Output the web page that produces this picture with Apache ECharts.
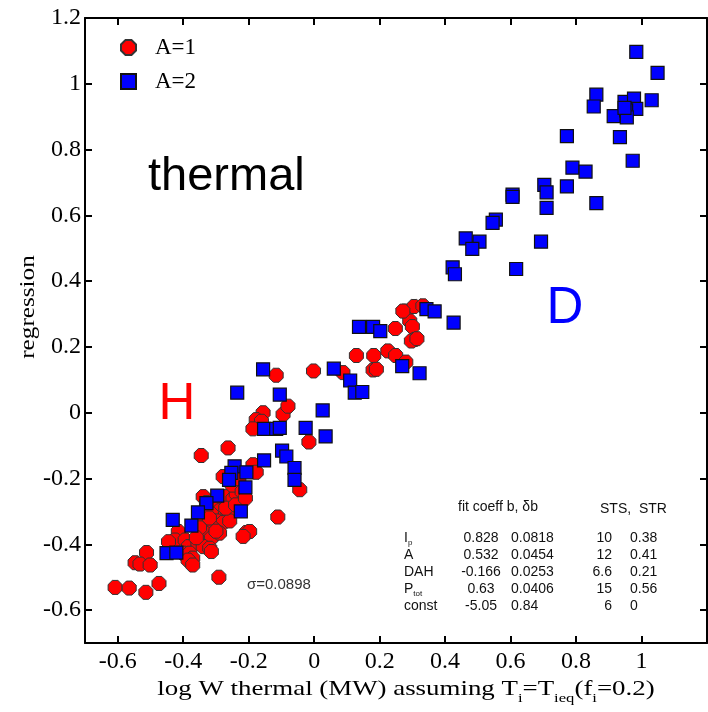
<!DOCTYPE html>
<html>
<head>
<meta charset="utf-8">
<script src="https://cdn.jsdelivr.net/npm/echarts@6/dist/echarts.min.js"></script>
<style>html,body{margin:0;padding:0;background:#fff}#c{width:708px;height:712px}</style>
</head>
<body>
<div id="c"></div>
<script>
// ---- data ----
const seriesNames = ['A=1', 'A=2'];
const a1Points = [
 [-0.002,0.127],[0.088,0.122],[0.129,0.174],[0.182,0.174],[0.180,0.130],[0.190,0.132],
 [0.225,0.188],[0.249,0.174],[0.280,0.154],[0.248,0.256],[0.277,0.309],[0.305,0.323],
 [0.332,0.325],[0.292,0.279],[0.300,0.262],[0.307,0.223],[0.297,0.218],[0.314,0.225],
 [0.271,0.309],[-0.116,0.114],[-0.095,-0.005],[-0.080,0.020],[-0.156,0.000],[-0.177,-0.021],
 [-0.161,-0.026],[-0.187,-0.049],[-0.016,-0.089],[-0.263,-0.107],[-0.345,-0.130],[-0.187,-0.158],
 [-0.177,-0.181],[-0.278,-0.194],[-0.044,-0.234],[-0.339,-0.255],[-0.329,-0.273],[-0.304,-0.280],
 [-0.268,-0.255],[-0.248,-0.262],[-0.238,-0.246],[-0.111,-0.317],[-0.289,-0.298],[-0.263,-0.308],
 [-0.314,-0.308],[-0.298,-0.329],[-0.278,-0.334],[-0.258,-0.329],[-0.355,-0.336],[-0.329,-0.346],
 [-0.309,-0.351],[-0.334,-0.366],[-0.314,-0.381],[-0.289,-0.366],[-0.415,-0.361],[-0.425,-0.387],
 [-0.445,-0.392],[-0.394,-0.387],[-0.384,-0.407],[-0.355,-0.397],[-0.339,-0.407],[-0.400,-0.427],
 [-0.380,-0.427],[-0.319,-0.412],[-0.314,-0.422],[-0.371,-0.442],[-0.385,-0.448],[-0.371,-0.463],
 [-0.207,-0.364],[-0.197,-0.361],[-0.217,-0.376],[-0.512,-0.425],[-0.547,-0.456],[-0.532,-0.460],
 [-0.501,-0.463],[-0.608,-0.531],[-0.565,-0.533],[-0.514,-0.546],[-0.474,-0.519],[-0.291,-0.500],
 [-0.25,-0.22],[-0.22,-0.24],[-0.27,-0.29],[-0.24,-0.28],[-0.32,-0.32],[-0.35,-0.35],
 [-0.36,-0.38],[-0.30,-0.36],[-0.23,-0.20],[-0.21,-0.26]
];
const a2Points = [
 [0.984,1.097],[1.049,1.033],[0.862,0.967],[0.854,0.931],[0.948,0.945],[0.977,0.955],
 [0.984,0.924],[1.031,0.950],[0.915,0.902],[0.953,0.919],[0.955,0.898],[0.948,0.927],
 [0.772,0.841],[0.934,0.838],[0.973,0.766],[0.789,0.745],[0.829,0.733],[0.772,0.688],
 [0.703,0.693],[0.710,0.670],[0.710,0.623],[0.862,0.637],[0.606,0.663],[0.606,0.656],
 [0.555,0.587],[0.545,0.577],[0.463,0.530],[0.505,0.520],[0.483,0.498],[0.693,0.520],
 [0.423,0.442],[0.430,0.421],[0.617,0.437],[0.343,0.315],[0.368,0.308],[0.426,0.274],
 [0.137,0.261],[0.180,0.261],[0.202,0.248],[0.269,0.142],[0.322,0.120],[0.060,0.134],
 [0.110,0.098],[0.124,0.061],[0.147,0.063],[0.026,0.007],[0.035,-0.072],
 [-0.156,0.132],[-0.235,0.061],[-0.105,0.055],[-0.153,-0.049],[-0.116,-0.049],[-0.105,-0.046],
 [-0.026,-0.046],[-0.098,-0.115],[-0.085,-0.133],[-0.060,-0.168],[-0.060,-0.204],[-0.153,-0.145],
 [-0.243,-0.163],[-0.253,-0.183],[-0.260,-0.204],[-0.207,-0.181],[-0.210,-0.227],[-0.296,-0.252],
 [-0.329,-0.275],[-0.355,-0.303],[-0.224,-0.300],[-0.432,-0.326],[-0.375,-0.343],[-0.451,-0.427],
 [-0.421,-0.425]
];
const xTicks = [-0.6,-0.4,-0.2,0,0.2,0.4,0.6,0.8,1];
const yTicks = [-0.6,-0.4,-0.2,0,0.2,0.4,0.6,0.8,1];
const yTickLabels = [-0.6,-0.4,-0.2,0,0.2,0.4,0.6,0.8,1,1.2];
const tableHeader = ['fit coeff b, \u03b4b', 'STS,  STR'];
const tableRows = ['I{s|p}', 'A', 'DAH', 'P{s|tot}', 'const'];
const tableB = ['0.828', '0.532', '-0.166', '0.63', '-5.05'];
const tableDB = ['0.0818', '0.0454', '0.0253', '0.0406', '0.84'];
const tableSTS = ['10', '12', '6.6', '15', '6'];
const tableSTR = ['0.38', '0.41', '0.21', '0.56', '0'];
const sigmaText = '\u03c3=0.0898';

// ---- chart ----
const OCT = 'path://M30,0 L70,0 L100,30 L100,70 L70,100 L30,100 L0,70 L0,30 Z';
const SERIF = 'Liberation Serif';
const SANS = 'Liberation Sans';
const chart = echarts.init(document.getElementById('c'), null, {renderer: 'canvas'});

const axisLine = {show: true, onZero: false, lineStyle: {color: '#000', width: 2}};
const tickStyle = {show: true, inside: true, length: 7, lineStyle: {color: '#000', width: 2}};

const graphics = [];
graphics.push({type: 'text', x: 148, y: 177, style: {text: 'thermal', font: '47px ' + SANS, fill: '#000', verticalAlign: 'middle'}});
graphics.push({type: 'text', x: 177, y: 405, style: {text: 'H', font: '51px ' + SANS, fill: '#ff0000', align: 'center', verticalAlign: 'middle'}});
graphics.push({type: 'text', x: 565, y: 309, style: {text: 'D', font: '51px ' + SANS, fill: '#0000ff', align: 'center', verticalAlign: 'middle'}});
graphics.push({type: 'text', x: 247, y: 585, style: {text: sigmaText, font: '15px ' + SANS, fill: '#333', verticalAlign: 'middle'}});
graphics.push({type: 'text', x: 458, y: 507, style: {text: tableHeader[0], font: '14px ' + SANS, fill: '#111', verticalAlign: 'middle'}});
graphics.push({type: 'text', x: 600, y: 509, style: {text: tableHeader[1], font: '14px ' + SANS, fill: '#111', verticalAlign: 'middle'}});
const rowY = [538, 555, 572, 589, 606];
tableRows.forEach((r, i) => {
  graphics.push({type: 'text', x: 404, y: rowY[i], style: {text: r, font: '14px ' + SANS, fill: '#111', verticalAlign: 'middle',
    rich: {s: {fontSize: 8, fontFamily: SANS, padding: [9, 0, 0, 0], fill: '#111'}}}});
  graphics.push({type: 'text', x: 481, y: rowY[i], style: {text: tableB[i], font: '14px ' + SANS, fill: '#111', align: 'center', verticalAlign: 'middle'}});
  graphics.push({type: 'text', x: 511, y: rowY[i], style: {text: tableDB[i], font: '14px ' + SANS, fill: '#111', verticalAlign: 'middle'}});
  graphics.push({type: 'text', x: 612, y: rowY[i], style: {text: tableSTS[i], font: '14px ' + SANS, fill: '#111', align: 'right', verticalAlign: 'middle'}});
  graphics.push({type: 'text', x: 630, y: rowY[i], style: {text: tableSTR[i], font: '14px ' + SANS, fill: '#111', verticalAlign: 'middle'}});
});
graphics.push({type: 'text', x: 406, y: 689, scaleX: 1.28, style: {
  text: 'log W thermal (MW) assuming T{s|i}=T{s|ieq}(f{s|i}=0.2)',
  font: '21px ' + SERIF, fill: '#000', align: 'center', verticalAlign: 'middle',
  rich: {s: {fontSize: 13, fontFamily: SERIF, padding: [20, 0, 0, 0], fill: '#000'}}}});
graphics.push({type: 'text', x: 28, y: 307, rotation: Math.PI / 2, scaleX: 1.2, style: {
  text: 'regression', font: '21px ' + SERIF, fill: '#000', align: 'center', verticalAlign: 'middle'}});

const option = {
  backgroundColor: '#fff',
  animation: false,
  grid: {left: 85, right: 1, top: 18, bottom: 69, containLabel: false, outerBoundsMode: 'none'},
  legend: {
    left: 115, top: 31, orient: 'vertical', itemWidth: 15, itemHeight: 15, itemGap: 11,
    textStyle: {fontFamily: SERIF, fontSize: 23, color: '#000', padding: [0, 0, 0, 14]},
    data: [{name: seriesNames[0], icon: OCT}, {name: seriesNames[1], icon: 'rect'}]
  },
  xAxis: [
    {type: 'value', position: 'bottom', min: -0.7, max: 1.2,
     axisLine: axisLine, splitLine: {show: false},
     axisTick: Object.assign({customValues: xTicks}, tickStyle),
     axisLabel: {customValues: xTicks, fontFamily: SERIF, fontSize: 24, color: '#000', margin: 7}},
    {type: 'value', position: 'top', min: -0.7, max: 1.2,
     axisLine: axisLine, splitLine: {show: false},
     axisTick: Object.assign({customValues: xTicks}, tickStyle),
     axisLabel: {show: false}}
  ],
  yAxis: [
    {type: 'value', position: 'left', min: -0.7, max: 1.2,
     axisLine: axisLine, splitLine: {show: false},
     axisTick: Object.assign({customValues: yTicks}, tickStyle),
     axisLabel: {customValues: yTickLabels, fontFamily: SERIF, fontSize: 24, color: '#000', margin: 4}},
    {type: 'value', position: 'right', min: -0.7, max: 1.2,
     axisLine: axisLine, splitLine: {show: false},
     axisTick: Object.assign({customValues: yTicks}, tickStyle),
     axisLabel: {show: false}}
  ],
  series: [
    {name: seriesNames[0], type: 'scatter', data: a1Points, symbol: OCT, symbolSize: 14,
     itemStyle: {color: '#ff0000', borderColor: '#333', borderWidth: 1, opacity: 1}},
    {name: seriesNames[1], type: 'scatter', data: a2Points, symbol: 'rect', symbolSize: 13,
     itemStyle: {color: '#0000ff', borderColor: '#111', borderWidth: 1.2, opacity: 1}}
  ],
  graphic: graphics
};
chart.setOption(option);
</script>
</body>
</html>
